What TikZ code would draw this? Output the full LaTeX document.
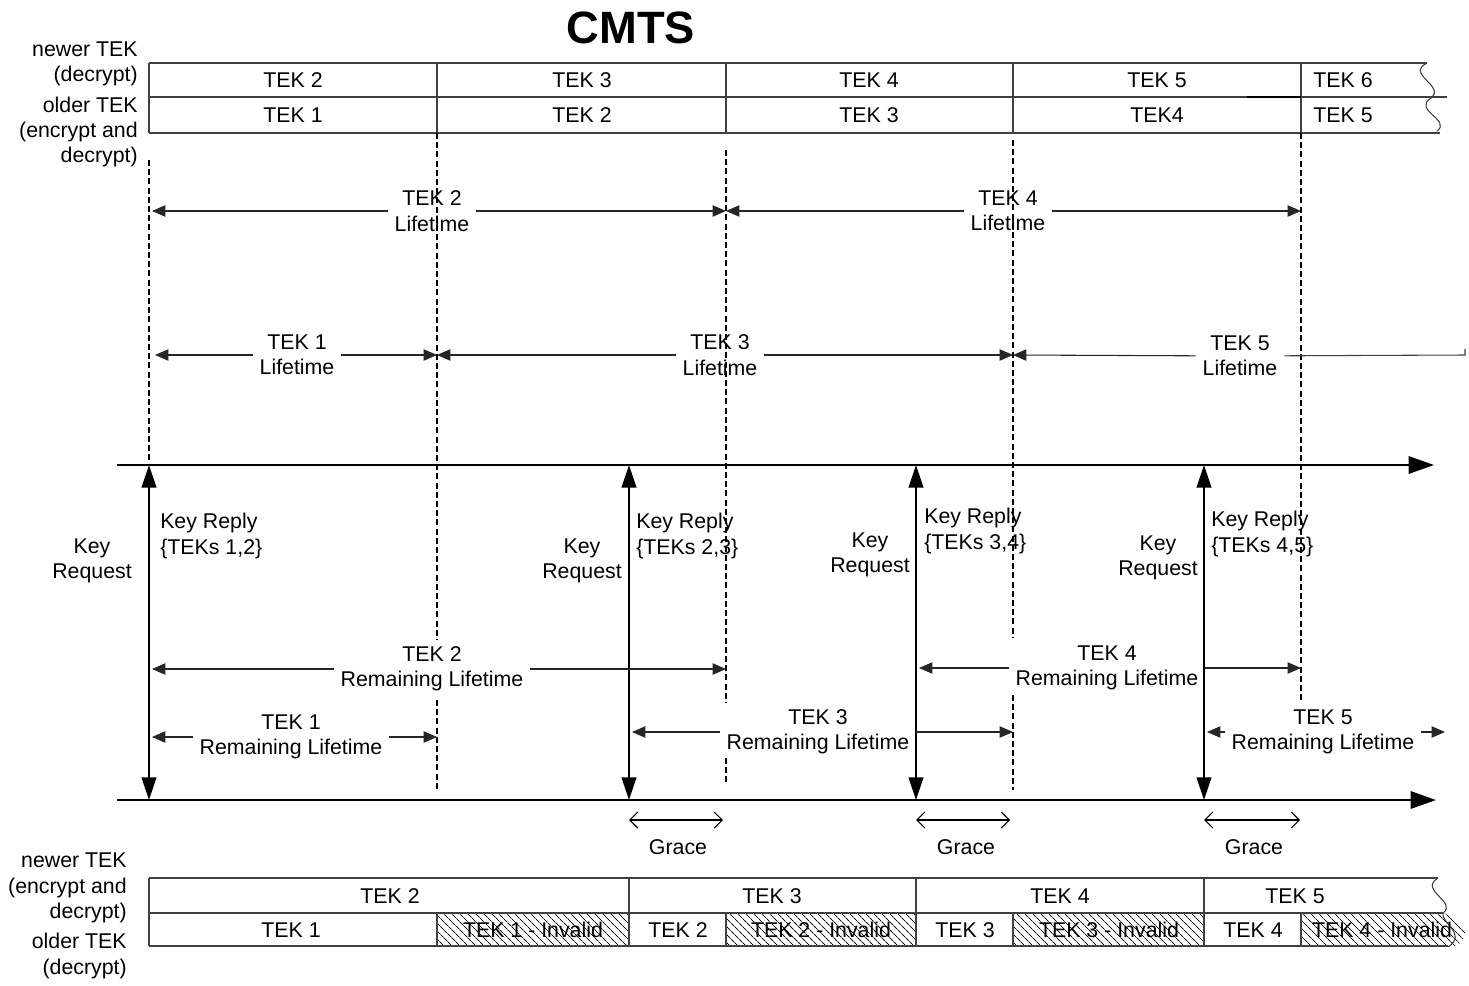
\documentclass[tikz,border=0pt]{standalone}
\usepackage{fontspec}
\setmainfont{Liberation Sans}
\usetikzlibrary{arrows.meta,patterns.meta}

\tikzset{
  txt/.style={font=\fontsize{16}{19}\selectfont, inner sep=0pt, align=center},
  gaptxt/.style={txt, inner xsep=5pt},
  cut/.style={draw=black, line width=1.1pt, dash pattern=on 4.5pt off 2.4pt},
  tipend/.style={draw=black!85, line width=0.8pt, -{Triangle[length=10pt,width=8.5pt]}},
  msg/.style={line width=1.6pt, {Triangle[length=17pt,width=11pt]}-{Triangle[length=17pt,width=11pt]}},
  timeline/.style={line width=1.6pt, -{Triangle[length=19pt,width=13pt]}},
  grace/.style={line width=0.8pt, {Straight Barb[length=6pt,width=12pt]}-{Straight Barb[length=6pt,width=12pt]}},
  grid/.style={draw=black!75, line width=0.8pt},
  hatch/.style={pattern={Lines[angle=-45,distance=4pt,line width=0.7pt]}},
}

\begin{document}
\begin{tikzpicture}[x=0.75pt, y=-0.75pt]
\useasboundingbox (0,0) rectangle (1469,985);

\node[font=\bfseries\fontsize{34}{38}\selectfont, inner sep=0pt] (title) at (631,28) {CMTS};

% CMTS key table
\node[txt, align=right, anchor=east] (newtop) at (138,64) {newer TEK\\(decrypt)};
\node[txt, align=right, anchor=east] (oldtop) at (138,132) {older TEK\\(encrypt and\\decrypt)};
\draw[grid] (149,63) -- (1427,63);
\draw[grid] (149,97) -- (1447,97);
\draw[grid] (149,133) -- (1440,133);
\draw[grid] (149,63) -- (149,133);
\draw[grid] (437,63) -- (437,133);
\draw[grid] (726,63) -- (726,133);
\draw[grid] (1013,63) -- (1013,133);
\draw[grid] (1301,63) -- (1301,133);
\draw[line width=1.4pt] (1247,97) -- (1301,97);
\draw[grid] (1427,63) .. controls (1405,74) and (1446,86) .. (1431,98);
\draw[grid] (1431,98) .. controls (1412,110) and (1452,120) .. (1437,131);
\node[txt] (a2) at (293,80) {TEK 2};
\node[txt] (a3) at (582,80) {TEK 3};
\node[txt] (a4) at (869,80) {TEK 4};
\node[txt] (a5) at (1157,80) {TEK 5};
\node[txt] (a6) at (1343,80) {TEK 6};
\node[txt] (b1) at (293,115) {TEK 1};
\node[txt] (b2) at (582,115) {TEK 2};
\node[txt] (b3) at (869,115) {TEK 3};
\node[txt] (b4) at (1157,115) {TEK4};
\node[txt] (b5) at (1343,115) {TEK 5};

% dashed key switch lines
\draw[cut] (149,160) -- (149,465);
\draw[cut] (437,133) -- (437,640);
\draw[cut] (437,700) -- (437,790);
\draw[cut] (726,150) -- (726,703);
\draw[cut] (726,758) -- (726,782);
\draw[cut] (1013,140) -- (1013,637);
\draw[cut] (1013,695) -- (1013,790);
\draw[cut] (1301,133) -- (1301,703);

% lifetimes
\coordinate (s1) at (152,211);
\coordinate (s2) at (726,211);
\coordinate (s3) at (1301,211);
\node[gaptxt] (lt2) at (432,211) {TEK 2\\Lifetime};
\node[gaptxt] (lt4) at (1008,211) {TEK 4\\Lifetime};
\draw[tipend] (lt2) -- (s1);
\draw[tipend] (lt2) -- (s2);
\draw[tipend] (lt4) -- (s2);
\draw[tipend] (lt4) -- (s3);
\coordinate (u1) at (155,355);
\coordinate (u2) at (437,355);
\coordinate (u3) at (1013,355);
\coordinate (u4) at (1465,355);
\node[gaptxt] (lt1) at (297,355) {TEK 1\\Lifetime};
\node[gaptxt] (lt3) at (720,355) {TEK 3\\Lifetime};
\node[gaptxt] (lt5) at (1240,356) {TEK 5\\Lifetime};
\draw[tipend] (lt1) -- (u1);
\draw[tipend] (lt1) -- (u2);
\draw[tipend] (lt3) -- (u2);
\draw[tipend] (lt3) -- (u3);
\draw[tipend] (lt5) -- (u3);
\draw[grid] (lt5) -- (u4) -- ++(0,-6);

% time lines
\coordinate (ta) at (117,465);
\coordinate (tb) at (1434,465);
\coordinate (ba) at (117,800);
\coordinate (bb) at (1436,800);
\draw[timeline] (ta) -- (tb);
\draw[timeline] (ba) -- (bb);

% key request / key reply
\coordinate (r1) at (149,465);
\coordinate (q1) at (149,800);
\coordinate (r2) at (629,465);
\coordinate (q2) at (629,800);
\coordinate (r3) at (916,465);
\coordinate (q3) at (916,800);
\coordinate (r4) at (1204,465);
\coordinate (q4) at (1204,800);
\draw[msg] (q1) -- (r1);
\draw[msg] (q2) -- (r2);
\draw[msg] (q3) -- (r3);
\draw[msg] (q4) -- (r4);
\node[txt] (kq1) at (92,561) {Key\\Request};
\node[txt] (kq2) at (582,561) {Key\\Request};
\node[txt] (kq3) at (870,555) {Key\\Request};
\node[txt] (kq4) at (1158,558) {Key\\Request};
\node[txt, align=left, anchor=west] (kr1) at (160,536) {Key Reply\\\{TEKs 1,2\}};
\node[txt, align=left, anchor=west] (kr2) at (636,536) {Key Reply\\\{TEKs 2,3\}};
\node[txt, align=left, anchor=west] (kr3) at (924,531) {Key Reply\\\{TEKs 3,4\}};
\node[txt, align=left, anchor=west] (kr4) at (1211,534) {Key Reply\\\{TEKs 4,5\}};

% remaining lifetimes
\coordinate (v1) at (152,669);
\coordinate (v2) at (726,669);
\node[gaptxt] (rl2) at (432,669) {TEK 2\\Remaining Lifetime};
\draw[tipend] (rl2) -- (v1);
\draw[tipend] (rl2) -- (v2);
\coordinate (w1) at (152,737);
\coordinate (w2) at (437,737);
\node[gaptxt] (rl1) at (291,737) {TEK 1\\Remaining Lifetime};
\draw[tipend] (rl1) -- (w1);
\draw[tipend] (rl1) -- (w2);
\coordinate (w3) at (632,732);
\coordinate (w4) at (1013,732);
\node[gaptxt] (rl3) at (818,732) {TEK 3\\Remaining Lifetime};
\draw[tipend] (rl3) -- (w3);
\draw[tipend] (rl3) -- (w4);
\coordinate (v3) at (919,668);
\coordinate (v4) at (1301,668);
\node[gaptxt] (rl4) at (1107,668) {TEK 4\\Remaining Lifetime};
\draw[tipend] (rl4) -- (v3);
\draw[tipend] (rl4) -- (v4);
\coordinate (w5) at (1207,732);
\coordinate (w6) at (1445,732);
\node[gaptxt] (rl5) at (1323,732) {TEK 5\\Remaining Lifetime};
\draw[tipend] (rl5) -- (w5);
\draw[tipend] (rl5) -- (w6);

% grace periods
\coordinate (g1) at (629,820);
\coordinate (g2) at (723,820);
\coordinate (g3) at (916,820);
\coordinate (g4) at (1010,820);
\coordinate (g5) at (1204,820);
\coordinate (g6) at (1300,820);
\draw[grace] (g1) -- (g2);
\draw[grace] (g3) -- (g4);
\draw[grace] (g5) -- (g6);
\node[txt] (gr1) at (678,847) {Grace};
\node[txt] (gr2) at (966,847) {Grace};
\node[txt] (gr3) at (1254,847) {Grace};

% CM key table
\node[txt, align=right, anchor=east] (newbot) at (127,888) {newer TEK\\(encrypt and\\decrypt)};
\node[txt, align=right, anchor=east] (oldbot) at (127,956) {older TEK\\(decrypt)};
\fill[hatch] (437,913) rectangle (629,946);
\fill[hatch] (726,913) rectangle (916,946);
\fill[hatch] (1013,913) rectangle (1204,946);
\fill[hatch] (1301,913) -- (1443,913) .. controls (1472,920) and (1470,942) .. (1452,947) -- (1301,946) -- cycle;
\draw[grid] (149,878) -- (1438,878);
\draw[grid] (149,913) -- (1443,913);
\draw[grid] (149,946) -- (1448,946);
\draw[grid] (149,878) -- (149,946);
\draw[grid] (629,878) -- (629,913);
\draw[grid] (916,878) -- (916,913);
\draw[grid] (1204,878) -- (1204,913);
\draw[grid] (437,913) -- (437,946);
\draw[grid] (629,913) -- (629,946);
\draw[grid] (726,913) -- (726,946);
\draw[grid] (916,913) -- (916,946);
\draw[grid] (1013,913) -- (1013,946);
\draw[grid] (1204,913) -- (1204,946);
\draw[grid] (1301,913) -- (1301,946);
\draw[grid] (1438,878) .. controls (1418,890) and (1458,902) .. (1443,913);
\draw[grid] (1443,913) .. controls (1440,922) and (1468,934) .. (1448,947);
\node[txt] (c2) at (390,896) {TEK 2};
\node[txt] (c3) at (772,896) {TEK 3};
\node[txt] (c4) at (1060,896) {TEK 4};
\node[txt] (c5) at (1295,896) {TEK 5};
\node[txt] (d1) at (291,930) {TEK 1};
\node[txt] (d1x) at (533,930) {TEK 1 - Invalid};
\node[txt] (d2) at (678,930) {TEK 2};
\node[txt] (d2x) at (821,930) {TEK 2 - Invalid};
\node[txt] (d3) at (965,930) {TEK 3};
\node[txt] (d3x) at (1109,930) {TEK 3 - Invalid};
\node[txt] (d4) at (1253,930) {TEK 4};
\node[txt] (d4x) at (1382,930) {TEK 4 - Invalid};
\end{tikzpicture}
\end{document}
